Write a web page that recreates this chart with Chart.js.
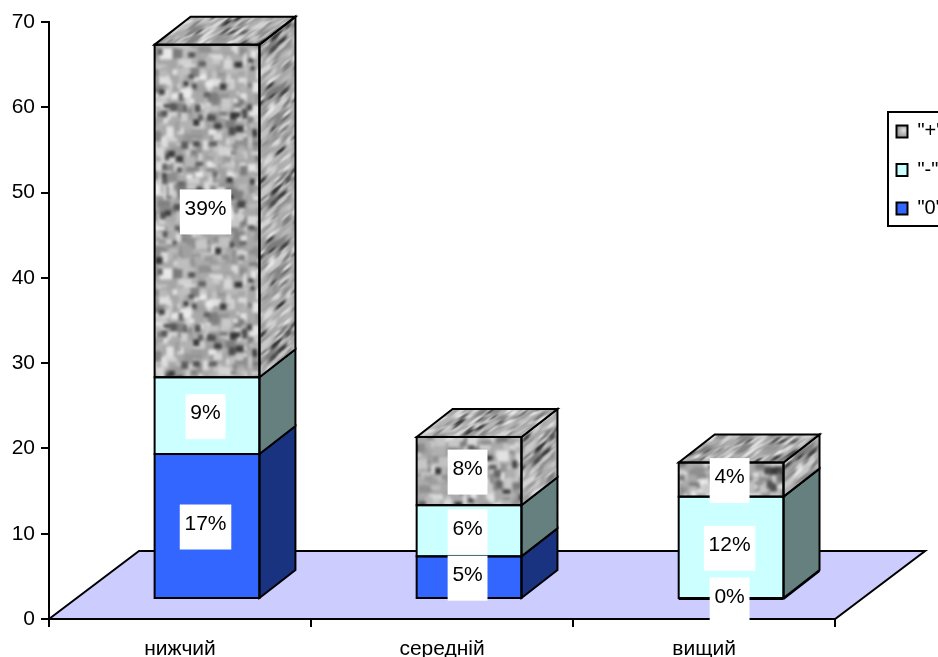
<!DOCTYPE html>
<html>
<head>
<meta charset="utf-8">
<script src="https://cdn.jsdelivr.net/npm/chart.js@4"></script>
<style>
  html, body { margin: 0; padding: 0; background: #fff; overflow: hidden; }
  #wrap { width: 938px; height: 657px; overflow: hidden; }
  canvas { display: block; }
</style>
</head>
<body>
<div id="wrap"><canvas id="chart" width="1000" height="657"></canvas></div>
<script>
// ===== DATA =====
const categories = ["нижчий", "середній", "вищий"];
const zeroValues = [17, 5, 0];
const minusValues = [9, 6, 12];
const plusValues = [39, 8, 4];
const seriesNames = ['"0"', '"-"', '"+"'];

// ===== 3D LOOK =====
const FONT = '"Liberation Sans", Arial, sans-serif';
const floorDepth = { x: 90, y: -68 };
const barShift = { x: 27, y: -20 };
const barDepth = { x: 36, y: -28 };
const legendFrame = { left: 888, top: 112, bottom: 226, itemTop: 103, itemLeft: 878 };

const ctx = document.getElementById("chart").getContext("2d");

// small seeded generator, only used for the stone texture
let seed = 4711;
function next(){
  seed = (seed * 1103515245 + 12345) & 0x7fffffff;
  return seed / 0x7fffffff;
}

function stoneTile(size){
  const raw = document.createElement("canvas");
  raw.width = raw.height = size;
  const r = raw.getContext("2d");
  r.fillStyle = "#a8a8a8";
  r.fillRect(0, 0, size, size);
  for(let i = 0; i < 1500; i++){
    const g = Math.round(120 + next() * 115);
    r.fillStyle = `rgb(${g},${g},${g})`;
    r.fillRect(next() * size, next() * size, 4 + next() * 9, 4 + next() * 7);
  }
  for(let i = 0; i < 130; i++){
    const g = Math.round(50 + next() * 55);
    r.fillStyle = `rgb(${g},${g},${g})`;
    r.fillRect(next() * size, next() * size, 4 + next() * 4, 4 + next() * 4);
  }
  // blur a 3x3 copy so the tile edges wrap, then keep the middle
  const sheet = document.createElement("canvas");
  sheet.width = sheet.height = size * 3;
  const s = sheet.getContext("2d");
  for(let dx = 0; dx < 3; dx++){
    for(let dy = 0; dy < 3; dy++){
      s.drawImage(raw, dx * size, dy * size);
    }
  }
  const big = document.createElement("canvas");
  big.width = big.height = size * 3;
  const b = big.getContext("2d");
  b.filter = "blur(1.8px)";
  b.drawImage(sheet, 0, 0);
  const tile = document.createElement("canvas");
  tile.width = tile.height = size;
  tile.getContext("2d").drawImage(big, -size, -size);
  return tile;
}

const tile = stoneTile(220);
const stoneFront = ctx.createPattern(tile, "repeat");
const stoneSide = ctx.createPattern(tile, "repeat");
stoneSide.setTransform(new DOMMatrix([1.2, -0.93, 0, 0.7, 0, 0]));
const stoneTop = ctx.createPattern(tile, "repeat");
stoneTop.setTransform(new DOMMatrix([0.7, 0, 1.2, -0.93, 0, 0]));

const frontFills = ["#3366ff", "#ccffff", stoneFront];
const sideFills = ["#1a3380", "#668080", stoneSide];

const swatchGray = ctx.createRadialGradient(904, 130, 1, 902, 132, 9);
swatchGray.addColorStop(0, "#d8d8d8");
swatchGray.addColorStop(1, "#707070");

// ===== PLUGIN: floor, shifted bars, side faces, value labels =====
function face(points, fill){
  ctx.beginPath();
  points.forEach((p, i) => i ? ctx.lineTo(p[0], p[1]) : ctx.moveTo(p[0], p[1]));
  ctx.closePath();
  ctx.fillStyle = fill;
  ctx.fill();
  ctx.stroke();
}

const depthBars = {
  id: "depthBars",
  afterLayout(chart){
    const lg = chart.legend;
    const w = lg.right - lg.left;
    const h = lg.bottom - lg.top;
    lg.left = legendFrame.itemLeft;
    lg.right = lg.left + w;
    lg.top = legendFrame.itemTop;
    lg.bottom = lg.top + h;
  },
  beforeDraw(chart){
    const { left, right, bottom } = chart.chartArea;
    ctx.save();
    ctx.strokeStyle = "#000";
    ctx.lineWidth = 2;
    ctx.lineJoin = "miter";
    face([
      [left, bottom],
      [left + floorDepth.x, bottom + floorDepth.y],
      [right + floorDepth.x, bottom + floorDepth.y],
      [right, bottom]
    ], "#ccccff");
    ctx.fillStyle = "#fff";
    ctx.fillRect(legendFrame.left, legendFrame.top, 120, legendFrame.bottom - legendFrame.top);
    ctx.strokeRect(legendFrame.left, legendFrame.top, 120, legendFrame.bottom - legendFrame.top);
    ctx.restore();
  },
  beforeDatasetsDraw(){
    ctx.save();
    ctx.translate(barShift.x, barShift.y);
  },
  afterDatasetsDraw(chart){
    ctx.strokeStyle = "#000";
    ctx.lineWidth = 2;
    const last = chart.data.datasets.length - 1;

    chart.data.datasets.forEach((ds, d) => {
      chart.getDatasetMeta(d).data.forEach(bar => {
        const x1 = bar.x - bar.width / 2;
        const x2 = bar.x + bar.width / 2;
        face([
          [x2, bar.y],
          [x2 + barDepth.x, bar.y + barDepth.y],
          [x2 + barDepth.x, bar.base + barDepth.y],
          [x2, bar.base]
        ], sideFills[d]);
        if(d === last){
          face([
            [x1, bar.y],
            [x1 + barDepth.x, bar.y + barDepth.y],
            [x2 + barDepth.x, bar.y + barDepth.y],
            [x2, bar.y]
          ], stoneTop);
        }
        ctx.strokeRect(x1, bar.y, bar.width, bar.base - bar.y);
      });
    });

    // value labels sit on white boxes above every face
    ctx.font = "21px " + FONT;
    ctx.textAlign = "center";
    ctx.textBaseline = "middle";
    chart.data.datasets.forEach((ds, d) => {
      chart.getDatasetMeta(d).data.forEach((bar, i) => {
        const text = ds.data[i] + "%";
        const w = ctx.measureText(text).width + 9.5;
        const cx = bar.x - 1.5;
        const cy = (bar.y + bar.base) / 2 + 1;
        ctx.fillStyle = "#fff";
        ctx.fillRect(cx - w / 2, cy - 22.5, w, 45);
        ctx.fillStyle = "#000";
        ctx.fillText(text, cx, cy - 3);
      });
    });
    ctx.restore();
  }
};

// ===== CHART =====
function dataset(i, values){
  return {
    label: seriesNames[i],
    data: values,
    backgroundColor: frontFills[i],
    borderWidth: 0,
    clip: false
  };
}

new Chart(ctx, {
  type: "bar",
  data: {
    labels: categories,
    datasets: [dataset(0, zeroValues), dataset(1, minusValues), dataset(2, plusValues)]
  },
  plugins: [depthBars],
  options: {
    responsive: false,
    animation: false,
    barPercentage: 0.4,
    categoryPercentage: 1,
    layout: { padding: { top: 22, left: 0, bottom: 0, right: 89.5 } },
    plugins: {
      tooltip: { enabled: false },
      legend: {
        position: "right",
        align: "start",
        reverse: true,
        labels: {
          boxWidth: 11,
          boxHeight: 12,
          padding: 18.5,
          color: "#000",
          font: { family: FONT, size: 20 },
          generateLabels(chart){
            return Chart.defaults.plugins.legend.labels.generateLabels(chart).map(item => ({
              ...item,
              strokeStyle: "#000",
              lineWidth: 2,
              fillStyle: item.datasetIndex === 2 ? swatchGray : item.fillStyle
            }));
          }
        }
      }
    },
    scales: {
      x: {
        stacked: true,
        afterFit(scale){ scale.height = 38; },
        border: { color: "#000", width: 2 },
        grid: { drawOnChartArea: false, color: "#000", tickLength: 8, lineWidth: 2 },
        ticks: { color: "#000", font: { family: FONT, size: 21 }, padding: 10, maxRotation: 0 }
      },
      y: {
        stacked: true,
        min: 0,
        max: 70,
        afterFit(scale){ scale.width = 49; },
        border: { color: "#000", width: 2 },
        grid: { drawOnChartArea: false, color: "#000", tickLength: 8, lineWidth: 2 },
        ticks: { stepSize: 10, color: "#000", font: { family: FONT, size: 21 }, padding: 6 }
      }
    }
  }
});
</script>
</body>
</html>
